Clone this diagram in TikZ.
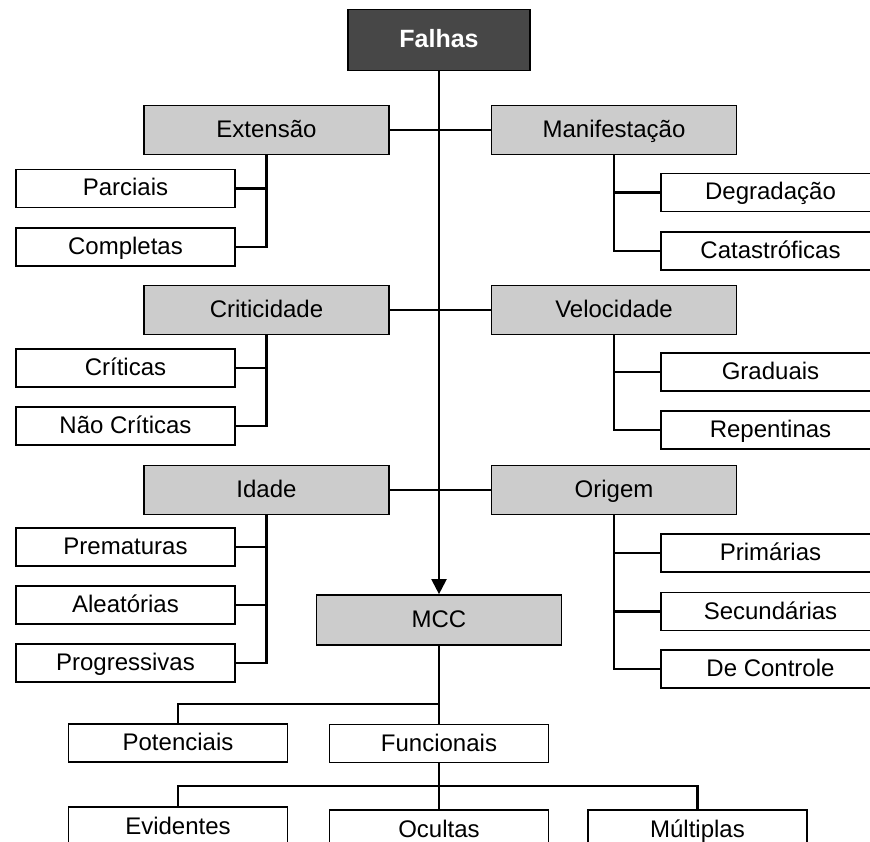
\documentclass[tikz,border=0pt]{standalone}
\usepackage{fontspec}
\setmainfont{Liberation Sans}
\usepackage{tikz}
\usetikzlibrary{arrows.meta}

\begin{document}
\begin{tikzpicture}[x=1pt, y=-1pt, line width=2.2pt,
  box/.style={draw, line width=1.7pt, inner sep=0pt, text height=17pt, text depth=2pt,
              font=\fontsize{24}{28}\selectfont},
  catbox/.style={box, fill=black!20, minimum width=245pt, minimum height=49pt},
  leafbox/.style={box, fill=white, minimum width=219pt, minimum height=38pt}]
\useasboundingbox (0,0) rectangle (870,842);

\node[box, fill=black!72, text=white, font=\fontsize{25}{29}\selectfont\bfseries,
      minimum width=182pt, minimum height=61pt] (falhas) at (439,40) {Falhas};

% categories
\node[catbox] (ext) at (266.5,130) {Extensão};
\node[catbox] (man) at (614,130) {Manifestação};
\node[catbox] (cri) at (266.5,310) {Criticidade};
\node[catbox] (vel) at (614,310) {Velocidade};
\node[catbox] (ida) at (266.5,490) {Idade};
\node[catbox] (ori) at (614,490) {Origem};
\node[catbox, minimum height=50pt] (mcc) at (439,620) {MCC};

% left leaves
\node[leafbox] (parc) at (125.5,188.5) {Parciais};
\node[leafbox] (comp) at (125.5,247) {Completas};
\node[leafbox] (crit) at (125.5,368) {Críticas};
\node[leafbox] (ncrit) at (125.5,426) {Não Críticas};
\node[leafbox] (prem) at (125.5,547) {Prematuras};
\node[leafbox] (alea) at (125.5,605) {Aleatórias};
\node[leafbox] (prog) at (125.5,663) {Progressivas};

% right leaves
\node[leafbox] (degr) at (770.5,192.5) {Degradação};
\node[leafbox] (cata) at (770.5,251) {Catastróficas};
\node[leafbox] (grad) at (770.5,372) {Graduais};
\node[leafbox] (rep) at (770.5,430) {Repentinas};
\node[leafbox] (prim) at (770.5,553) {Primárias};
\node[leafbox] (sec) at (770.5,611.5) {Secundárias};
\node[leafbox] (dctl) at (770.5,669) {De Controle};

% below MCC
\node[leafbox] (pot) at (178,743) {Potenciais};
\node[leafbox] (func) at (439,743.5) {Funcionais};
\node[leafbox, minimum height=40pt] (evi) at (178,827) {Evidentes};
\node[leafbox, minimum height=40pt] (ocu) at (439,830) {Ocultas};
\node[leafbox, minimum height=40pt] (mult) at (697.5,830) {Múltiplas};

\coordinate (j1) at (439,704); % MCC split
\coordinate (j2) at (439,786); % Funcionais split

\draw[-{Triangle[length=15pt,width=15pt]}] (falhas) -- (mcc);
\draw (ext) -- (man);
\draw (cri) -- (vel);
\draw (ida) -- (ori);

\draw (ext.south) |- (parc);
\draw (ext.south) |- (comp);
\draw (man.south) |- (degr);
\draw (man.south) |- (cata);
\draw (cri.south) |- (crit);
\draw (cri.south) |- (ncrit);
\draw (vel.south) |- (grad);
\draw (vel.south) |- (rep);
\draw (ida.south) |- (prem);
\draw (ida.south) |- (alea);
\draw (ida.south) |- (prog);
\draw (ori.south) |- (prim);
\draw (ori.south) |- (sec);
\draw (ori.south) |- (dctl);

\draw (mcc) -- (func);
\draw (j1) -| (pot.north);
\draw (func) -- (ocu);
\draw (evi.north) |- (j2) -| (mult.north);
\end{tikzpicture}
\end{document}
